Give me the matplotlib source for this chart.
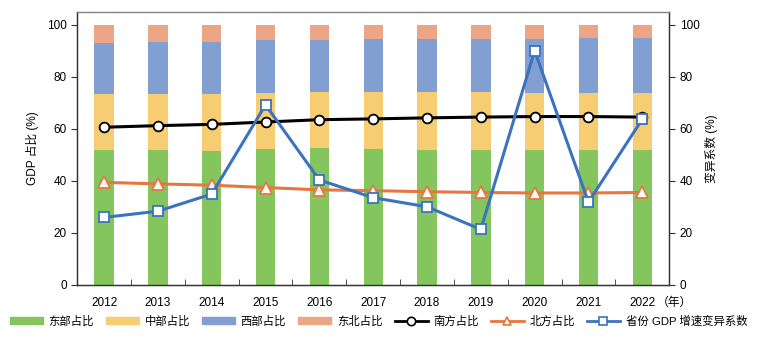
import numpy as np
import matplotlib.pyplot as plt
import matplotlib.transforms as mtransforms
from matplotlib.patches import Patch
from matplotlib.lines import Line2D

plt.rcParams['font.family'] = ['Liberation Sans', 'Noto Sans CJK SC']
plt.rcParams['font.size'] = 8.5

years = ['2012', '2013', '2014', '2015', '2016', '2017', '2018', '2019', '2020', '2021', '2022']
east = [51.9, 51.7, 51.5, 52.3, 52.7, 52.3, 51.9, 51.7, 51.9, 51.9, 51.7]
central = [21.6, 21.5, 21.7, 21.5, 21.5, 21.9, 22.1, 22.3, 21.9, 21.9, 22.0]
west = [19.4, 20.0, 20.3, 20.2, 20.0, 20.2, 20.7, 20.7, 20.9, 21.3, 21.4]
northeast = [7.1, 6.8, 6.5, 6.0, 5.8, 5.6, 5.3, 5.3, 5.3, 4.9, 4.9]
south = [60.6, 61.2, 61.7, 62.6, 63.5, 63.8, 64.2, 64.5, 64.7, 64.7, 64.5]
north = [39.4, 38.8, 38.3, 37.4, 36.5, 36.2, 35.8, 35.5, 35.3, 35.3, 35.5]
cv = [25.9, 28.3, 34.9, 69.2, 40.3, 33.5, 30.0, 21.3, 90.0, 31.8, 63.7]

c_east = '#84c55e'
c_central = '#f6cd72'
c_west = '#829fd1'
c_ne = '#eda685'
c_south = '#000000'
c_north = '#e8773d'
c_cv = '#3b73be'

x = np.arange(len(years))
fig = plt.figure(figsize=(7.57, 3.37), dpi=100)
ax = fig.add_axes([0.102, 0.155, 0.782, 0.81])
ax2 = ax.twinx()

w = 0.36
b1 = np.array(east)
b2 = b1 + np.array(central)
b3 = b2 + np.array(west)
ax.bar(x, east, w, color=c_east, zorder=1)
ax.bar(x, central, w, bottom=b1, color=c_central, zorder=1)
ax.bar(x, west, w, bottom=b2, color=c_west, zorder=1)
ax.bar(x, northeast, w, bottom=b3, color=c_ne, zorder=1)

ax.plot(x, south, color=c_south, lw=2.2, marker='o', ms=7,
        mfc='white', mec=c_south, mew=1.3, zorder=3)
ax.plot(x, north, color=c_north, lw=2.2, marker='^', ms=8,
        mfc='white', mec=c_north, mew=1.3, zorder=3)
ax2.plot(x, cv, color=c_cv, lw=2.2, marker='s', ms=7,
         mfc='white', mec=c_cv, mew=1.3, zorder=4)

for a in (ax, ax2):
    a.set_ylim(0, 105)
    a.set_yticks(range(0, 101, 20))
    a.set_xlim(-0.5, 10.5)
    for s in a.spines.values():
        s.set_color('#333333')
        s.set_linewidth(0.9)
ax.spines['top'].set_color('#888888')
ax2.spines['top'].set_color('#888888')

ax.set_xticks(x)
ax.set_xticklabels(years)
ax.tick_params(axis='x', length=0, pad=9)
ax.set_xticks(np.arange(0.5, 10.5, 1), minor=True)
ax.tick_params(axis='x', which='minor', direction='in', length=4, color='#333333')
ax.tick_params(axis='y', direction='out', length=4, color='#333333')
ax2.tick_params(axis='y', direction='out', length=4, color='#333333')

ax.set_ylabel('GDP 占比 (%)', labelpad=6)
ax2.set_ylabel('变异系数 (%)', labelpad=4)

# unit label sits on the same line as the year labels
trans = mtransforms.blended_transform_factory(ax.transData, ax.transAxes)
ax.annotate('（年）', xy=(10.27, 0), xycoords=trans, xytext=(0, -9),
            textcoords='offset points', ha='left', va='top', fontsize=8.5)

handles = [
    Patch(color=c_east, label='东部占比'),
    Patch(color=c_central, label='中部占比'),
    Patch(color=c_west, label='西部占比'),
    Patch(color=c_ne, label='东北占比'),
    Line2D([], [], color=c_south, lw=2, marker='o', ms=6, mfc='white', mew=1.2, label='南方占比'),
    Line2D([], [], color=c_north, lw=2, marker='^', ms=6, mfc='white', mew=1.2, label='北方占比'),
    Line2D([], [], color=c_cv, lw=2, marker='s', ms=6, mfc='white', mew=1.2, label='省份 GDP 增速变异系数'),
]
fig.legend(handles=handles, loc='center', bbox_to_anchor=(0.5, 0.047), ncol=7,
           frameon=False, handlelength=2.9, handleheight=0.55, handletextpad=0.5,
           columnspacing=1.05, borderpad=0.2, fontsize=8.2)

fig.savefig('out.png', dpi=100)
